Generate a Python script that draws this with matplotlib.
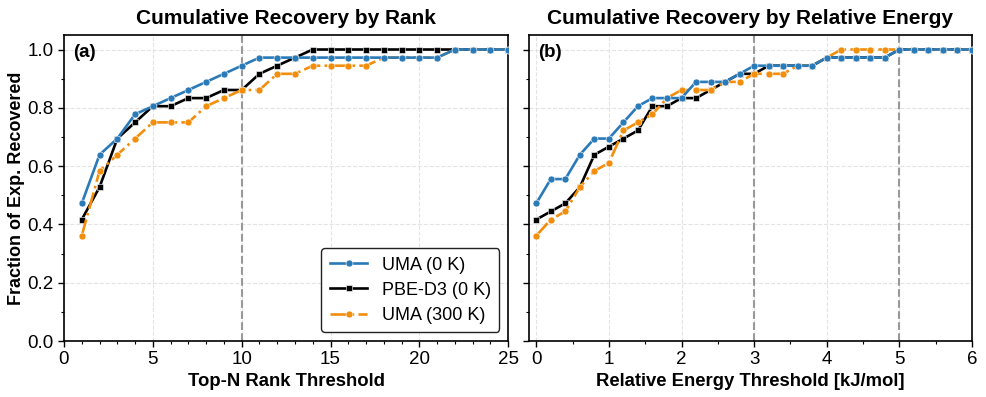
import matplotlib
matplotlib.use("Agg")
import matplotlib.pyplot as plt
from matplotlib.ticker import MultipleLocator
import numpy as np

plt.rcParams['font.family'] = ['Liberation Sans', 'DejaVu Sans']

# counts of recovered experimental structures (out of 36)
n_exp = 36
rank_n = list(range(1, 26))
rank_uma0 = [17, 23, 25, 28, 29, 30, 31, 32, 33, 34, 35, 35, 35, 35, 35, 35, 35, 35, 35, 35, 35, 36, 36, 36, 36]
rank_pbe = [15, 19, 25, 27, 29, 29, 30, 30, 31, 31, 33, 34, 35, 36, 36, 36, 36, 36, 36, 36, 36, 36, 36, 36, 36]
rank_uma300 = [13, 21, 23, 25, 27, 27, 27, 29, 30, 31, 31, 33, 33, 34, 34, 34, 34, 35, 35, 35, 35, 36, 36, 36, 36]

energy = [round(0.2 * i, 1) for i in range(31)]
en_uma0 = [17, 20, 20, 23, 25, 25, 27, 29, 30, 30, 30, 32, 32, 32, 33, 34, 34, 34, 34, 34,
           35, 35, 35, 35, 35, 36, 36, 36, 36, 36, 36]
en_pbe = [15, 16, 17, 19, 23, 24, 25, 26, 29, 29, 30, 30, 31, 32, 33, 33, 34, 34, 34, 34,
          35, 35, 35, 35, 35, 36, 36, 36, 36, 36, 36]
en_uma300 = [13, 15, 16, 19, 21, 22, 26, 27, 28, 30, 31, 31, 31, 32, 32, 33, 33, 33, 34, 34,
             35, 36, 36, 36, 36, 36, 36, 36, 36, 36, 36]

blue = '#2a7ab8'
orange = '#f28e0c'

fig = plt.figure(figsize=(9.86, 3.97), dpi=100)
ax1 = fig.add_axes([0.0649, 0.141, 0.4505, 0.771])
ax2 = fig.add_axes([0.5365, 0.141, 0.4493, 0.771], sharey=ax1)


def draw(ax, x, a, b, c):
    a = np.array(a) / n_exp
    b = np.array(b) / n_exp
    c = np.array(c) / n_exp
    ax.plot(x, a, '-', color=blue, lw=1.9, marker='o', ms=5, mec='white', mew=0.4,
            label='UMA (0 K)', zorder=4)
    ax.plot(x, b, '-', color='black', lw=1.9, marker='s', ms=5, mec='white', mew=0.4,
            label='PBE-D3 (0 K)', zorder=2)
    ax.plot(x, c, '-.', color=orange, lw=1.9, marker='o', ms=5, mec='white', mew=0.4,
            label='UMA (300 K)', zorder=3)
    ax.grid(True, ls='--', lw=0.8, color='#dddddd', alpha=0.8)
    ax.set_axisbelow(True)
    ax.tick_params(which='major', labelsize=13.5, length=4, width=1)
    ax.tick_params(which='minor', length=2.5, width=0.8)
    for s in ax.spines.values():
        s.set_linewidth(1.2)


draw(ax1, rank_n, rank_uma0, rank_pbe, rank_uma300)
ax1.axvline(10, color='#999999', ls='--', lw=1.5, zorder=1)
ax1.set_xlim(0, 25)
ax1.set_ylim(0, 1.05)
ax1.xaxis.set_major_locator(MultipleLocator(5))
ax1.xaxis.set_minor_locator(MultipleLocator(1))
ax1.yaxis.set_major_locator(MultipleLocator(0.2))
ax1.yaxis.set_minor_locator(MultipleLocator(0.1))
ax1.set_title('Cumulative Recovery by Rank', fontsize=15, fontweight='bold', pad=8)
ax1.set_xlabel('Top-N Rank Threshold', fontsize=13.3, fontweight='bold', labelpad=3)
ax1.set_ylabel('Fraction of Exp. Recovered', fontsize=13, fontweight='bold', labelpad=2)
ax1.text(0.02, 0.97, '(a)', transform=ax1.transAxes, fontsize=13.5, fontweight='bold', va='top')
leg = ax1.legend(loc='lower right', fontsize=13, frameon=True, fancybox=True,
                 edgecolor='#222222', handlelength=2.1, borderpad=0.45, labelspacing=0.45)
leg.get_frame().set_linewidth(1.0)
leg.get_frame().set_alpha(1)

draw(ax2, energy, en_uma0, en_pbe, en_uma300)
for v in [3, 5]:
    ax2.axvline(v, color='#999999', ls='--', lw=1.5, zorder=1)
ax2.set_xlim(-0.1, 6)
ax2.xaxis.set_major_locator(MultipleLocator(1))
ax2.xaxis.set_minor_locator(MultipleLocator(0.5))
ax2.tick_params(labelleft=False)
ax2.set_title('Cumulative Recovery by Relative Energy', fontsize=15, fontweight='bold', pad=8)
ax2.set_xlabel('Relative Energy Threshold [kJ/mol]', fontsize=13.3, fontweight='bold', labelpad=3)
ax2.text(0.02, 0.97, '(b)', transform=ax2.transAxes, fontsize=13.5, fontweight='bold', va='top')

fig.savefig('out.png', dpi=100)
